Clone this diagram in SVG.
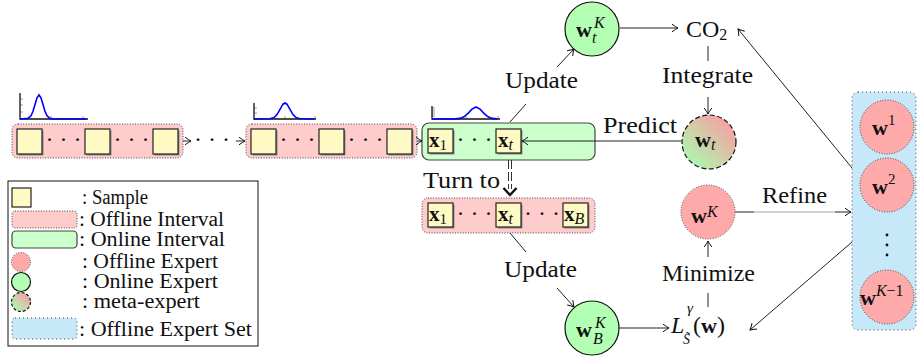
<svg xmlns="http://www.w3.org/2000/svg" width="918" height="360" viewBox="0 0 918 360" font-family="'Liberation Serif', serif">
<defs>
<style>
text{font-family:'Liberation Serif','DejaVu Serif',serif;fill:#111}
.lbl{font-size:24px;text-anchor:middle}
.leg{font-size:20px}
.bw{font-size:22px;font-weight:bold}
.bx{font-size:21px;font-weight:bold}
.it{font-style:italic;font-weight:normal}
.rm{font-weight:normal}
.dt{font-size:24px}
.ln{fill:none;stroke:#222;stroke-width:1}
.sq{fill:#fff9c4;stroke:#222;stroke-width:1.2}
.sqs{fill:#8a8a8a}
.off{fill:#ffcccc;stroke:#444;stroke-width:1;stroke-dasharray:1 1.6}
.on{fill:#ccffcc;stroke:#444;stroke-width:1.2}
.oe{fill:#ffaaaa;stroke:#444;stroke-width:1;stroke-dasharray:1 1.6}
.ne{fill:#b3ffb3;stroke:#111;stroke-width:1.2}
.me{fill:url(#grad);stroke:#111;stroke-width:1.2;stroke-dasharray:5 2.5}
.set{fill:#c6e8f8;stroke:#444;stroke-width:1;stroke-dasharray:1 3}
.ax{fill:none;stroke:#111;stroke-width:1.3}
.tk{fill:none;stroke:#888;stroke-width:0.8}
.cv{fill:none;stroke:#0000ff;stroke-width:1.6}
</style>
<linearGradient id="grad" x1="0" y1="1" x2="1" y2="0">
<stop offset="0.15" stop-color="#aef5ae"/>
<stop offset="0.85" stop-color="#f5a3a3"/>
</linearGradient>
<marker id="ar" markerWidth="10" markerHeight="10" viewBox="-8 -5 10 10" refX="0" refY="0" orient="auto" markerUnits="userSpaceOnUse">
<path d="M-6,-3.8 Q-2,-1 0,0 Q-2,1 -6,3.8" fill="none" stroke="#111" stroke-width="1"/>
</marker>
</defs>
<rect width="918" height="360" fill="#fff"/>

<g id="hist1">
<path class="tk" d="M20,99h3M20,105h3M20,112h3M51,119v-3M83,119v-3"/>
<path class="ax" d="M20,93V119H88"/>
<polyline class="cv" points="20,119 28,118.4 31,115.8 33,111.2 35,104.4 37,97.8 39,95 41,97.8 43,104.4 45,111.2 47,115.8 50,118.4 53,119 86,119"/>
</g>
<g id="hist2">
<path class="tk" d="M254,108h3M254,113h3M285,119v-3M315,119v-3"/>
<path class="ax" d="M254,103V119H316"/>
<polyline class="cv" points="254,119 270,118.8 274,117.6 277,114.6 280,109.3 283,104.2 285,103 287,104.2 290,109.3 293,114.6 296,117.6 300,118.8 314,119"/>
</g>
<g id="hist3">
<path class="tk" d="M432,108h3M432,110h3M432,112h3M432,114h3M432,116h3M466,119v-3M498,119v-3"/>
<path class="ax" d="M432,106V119H500"/>
<polyline class="cv" points="432,119 455,118.9 460,118.4 464,116.8 468,113.4 472,109.1 476,107 480,109.1 484,113.4 488,116.8 492,118.4 497,118.9"/>
</g>

<g id="offline1">
<rect class="off" x="12" y="124" width="171" height="34" rx="6"/>
<rect class="sqs" x="18.5" y="130.5" width="25" height="25"/>
<rect class="sq" x="17" y="129" width="25" height="25"/>
<text class="dt" x="63.5" y="147" text-anchor="middle">· · ·</text>
<rect class="sqs" x="86.5" y="130.5" width="25" height="25"/>
<rect class="sq" x="85" y="129" width="25" height="25"/>
<text class="dt" x="131.5" y="147" text-anchor="middle">· · ·</text>
<rect class="sqs" x="154.5" y="130.5" width="25" height="25"/>
<rect class="sq" x="153" y="129" width="25" height="25"/>
</g>
<text id="between" class="dt" x="212" y="147" text-anchor="middle">· · ·</text>
<g id="offline2">
<rect class="off" x="246" y="124" width="171" height="34" rx="6"/>
<rect class="sqs" x="252.5" y="130.5" width="25" height="25"/>
<rect class="sq" x="251" y="129" width="25" height="25"/>
<text class="dt" x="297.5" y="147" text-anchor="middle">· · ·</text>
<rect class="sqs" x="320.5" y="130.5" width="25" height="25"/>
<rect class="sq" x="319" y="129" width="25" height="25"/>
<text class="dt" x="365.5" y="147" text-anchor="middle">· · ·</text>
<rect class="sqs" x="388.5" y="130.5" width="25" height="25"/>
<rect class="sq" x="387" y="129" width="25" height="25"/>
</g>

<g id="online">
<rect class="on" x="422" y="123" width="173" height="37" rx="7"/>
<rect class="sqs" x="429.5" y="130.5" width="25" height="24"/>
<rect class="sq" x="428" y="129" width="25" height="24"/>
<text class="bx" x="429" y="147">x<tspan class="rm" font-size="15" dy="3">1</tspan></text>
<text class="dt" x="474.5" y="147" text-anchor="middle">· · ·</text>
<rect class="sqs" x="497.5" y="130.5" width="25" height="24"/>
<rect class="sq" x="496" y="129" width="25" height="24"/>
<text class="bx" x="498" y="147">x<tspan class="it" font-size="16" dy="3">t</tspan></text>
</g>

<g id="offlineB">
<rect class="off" x="422" y="198" width="173" height="35" rx="6"/>
<rect class="sqs" x="429.5" y="204.5" width="25" height="24"/>
<rect class="sq" x="428" y="203" width="25" height="24"/>
<text class="bx" x="429" y="221">x<tspan class="rm" font-size="15" dy="3">1</tspan></text>
<text class="dt" x="474.5" y="221" text-anchor="middle">· · ·</text>
<rect class="sqs" x="497.5" y="204.5" width="25" height="24"/>
<rect class="sq" x="496" y="203" width="25" height="24"/>
<text class="bx" x="498" y="221">x<tspan class="it" font-size="16" dy="3">t</tspan></text>
<text class="dt" x="542" y="221" text-anchor="middle">· · ·</text>
<rect class="sqs" x="564.5" y="204.5" width="25" height="24"/>
<rect class="sq" x="563" y="203" width="25" height="24"/>
<text class="bx" x="564" y="221">x<tspan class="it" font-size="16" dy="3">B</tspan></text>
</g>

<g id="connectors">
<line class="ln" x1="183" y1="141" x2="191" y2="141" marker-end="url(#ar)"/>
<line class="ln" x1="236" y1="141" x2="245" y2="141" marker-end="url(#ar)"/>
<line class="ln" x1="417" y1="141" x2="422" y2="141" marker-end="url(#ar)"/>
<line class="ln" x1="681" y1="141" x2="522" y2="141" marker-end="url(#ar)"/>
<line class="ln" x1="510" y1="122" x2="526" y2="104"/>
<line class="ln" x1="557" y1="67" x2="574" y2="49" marker-end="url(#ar)"/>
<line class="ln" x1="510" y1="233" x2="526" y2="252"/>
<line class="ln" x1="557" y1="288" x2="574" y2="307" marker-end="url(#ar)"/>
<line class="ln" x1="620" y1="28" x2="678" y2="28" marker-end="url(#ar)"/>
<line class="ln" x1="708" y1="46" x2="708" y2="61"/>
<line class="ln" x1="708" y1="97" x2="708" y2="114" marker-end="url(#ar)"/>
<line class="ln" x1="852" y1="168" x2="738" y2="29" marker-end="url(#ar)"/>
<line class="ln" x1="735" y1="212" x2="851" y2="212" marker-end="url(#ar)"/>
<rect x="754" y="190" width="81" height="24" fill="#fff" fill-opacity="0.6"/>
<line class="ln" x1="708" y1="307" x2="708" y2="293"/>
<line class="ln" x1="708" y1="257" x2="708" y2="241" marker-end="url(#ar)"/>
<line class="ln" x1="619" y1="328" x2="669" y2="328" marker-end="url(#ar)"/>
<line class="ln" x1="852" y1="242" x2="750" y2="330" marker-end="url(#ar)"/>
<g id="turnto-arrow">
<path d="M508.5,160V189M511.5,160V189" fill="none" stroke="#333" stroke-width="1" stroke-dasharray="9 3"/>
<path d="M503.5,188L510,195L516.5,188" fill="none" stroke="#111" stroke-width="2.4"/>
</g>
</g>

<text class="lbl" x="541.5" y="88" textLength="73" lengthAdjust="spacingAndGlyphs">Update</text>
<text class="lbl" x="540.5" y="277" textLength="73" lengthAdjust="spacingAndGlyphs">Update</text>
<text class="lbl" x="707.5" y="83" textLength="91" lengthAdjust="spacingAndGlyphs">Integrate</text>
<text class="lbl" x="640" y="133" textLength="74" lengthAdjust="spacingAndGlyphs">Predict</text>
<text class="lbl" x="461.5" y="188" textLength="77" lengthAdjust="spacingAndGlyphs">Turn to</text>
<text class="lbl" x="794.5" y="203" textLength="65" lengthAdjust="spacingAndGlyphs">Refine</text>
<text class="lbl" x="708.5" y="281" textLength="93" lengthAdjust="spacingAndGlyphs">Minimize</text>

<g id="co2">
<text font-size="24" x="686" y="37">CO<tspan font-size="16" dy="3">2</tspan></text>
</g>

<g id="wtK">
<circle class="ne" cx="592" cy="29" r="27"/>
<text class="bw" x="576" y="37">w</text>
<text class="it" font-size="16" x="594" y="28">K</text>
<text class="it" font-size="16" x="592" y="43">t</text>
</g>
<g id="wt">
<circle class="me" cx="709" cy="142" r="27"/>
<text class="bw" x="695" y="147">w<tspan class="it" font-size="16" dy="3">t</tspan></text>
</g>
<g id="wK">
<circle class="oe" cx="708" cy="212" r="27"/>
<text class="bw" x="691" y="223">w<tspan class="it" font-size="16" dy="-6">K</tspan></text>
</g>
<g id="wBK">
<circle class="ne" cx="592" cy="328" r="27"/>
<text class="bw" x="576" y="337">w</text>
<text class="it" font-size="16" x="595" y="328">K</text>
<text class="it" font-size="16" x="593" y="344">B</text>
</g>
<g id="loss">
<text class="it" font-size="24" x="671" y="333">L</text>
<text font-size="24" x="693" y="333">(<tspan font-weight="bold" font-size="22">w</tspan>)</text>
<text class="it" font-size="15" x="687" y="313">γ</text>
<text class="it" font-size="14" x="683" y="344">S̃</text>
</g>

<g id="expertset">
<rect class="set" x="852" y="92" width="64" height="238" rx="6"/>
<circle class="oe" cx="887" cy="127" r="27"/>
<text class="bw" x="872" y="135">w<tspan class="rm" font-size="15" dy="-10">1</tspan></text>
<circle class="oe" cx="887" cy="185" r="27"/>
<text class="bw" x="872" y="194">w<tspan class="rm" font-size="15" dy="-10">2</tspan></text>
<circle cx="887" cy="235" r="1.4" fill="#111"/>
<circle cx="887" cy="245" r="1.4" fill="#111"/>
<circle cx="887" cy="255" r="1.4" fill="#111"/>
<circle class="oe" cx="887" cy="297" r="27"/>
<text class="bw" x="860" y="305">w<tspan class="it" font-size="16" dy="-9">K</tspan><tspan class="rm" font-size="16">−1</tspan></text>
</g>

<g id="legend">
<rect x="8" y="181" width="250" height="165" fill="#fff" stroke="#111" stroke-width="1"/>
<rect class="sq" x="12" y="188" width="19" height="19"/>
<text class="leg" x="82" y="204" textLength="66" lengthAdjust="spacingAndGlyphs">: Sample</text>
<rect class="off" x="12" y="211" width="65" height="17" rx="3"/>
<text class="leg" x="79" y="226" textLength="145" lengthAdjust="spacingAndGlyphs">: Offline Interval</text>
<rect class="on" x="12" y="231" width="65" height="17" rx="4"/>
<text class="leg" x="79" y="246" textLength="146" lengthAdjust="spacingAndGlyphs">: Online Interval</text>
<circle class="oe" cx="21" cy="262" r="9.5"/>
<text class="leg" x="82" y="268" textLength="136" lengthAdjust="spacingAndGlyphs">: Offline Expert</text>
<circle class="ne" cx="21" cy="282" r="9.5"/>
<text class="leg" x="82" y="288" textLength="136" lengthAdjust="spacingAndGlyphs">: Online Expert</text>
<circle class="me" cx="21" cy="302" r="9.5" style="stroke-dasharray:3 2"/>
<text class="leg" x="82" y="308" textLength="118" lengthAdjust="spacingAndGlyphs">: meta-expert</text>
<rect class="set" x="12" y="318" width="65" height="21" rx="3"/>
<text class="leg" x="79" y="336" textLength="173" lengthAdjust="spacingAndGlyphs">: Offline Expert Set</text>
</g>
</svg>
